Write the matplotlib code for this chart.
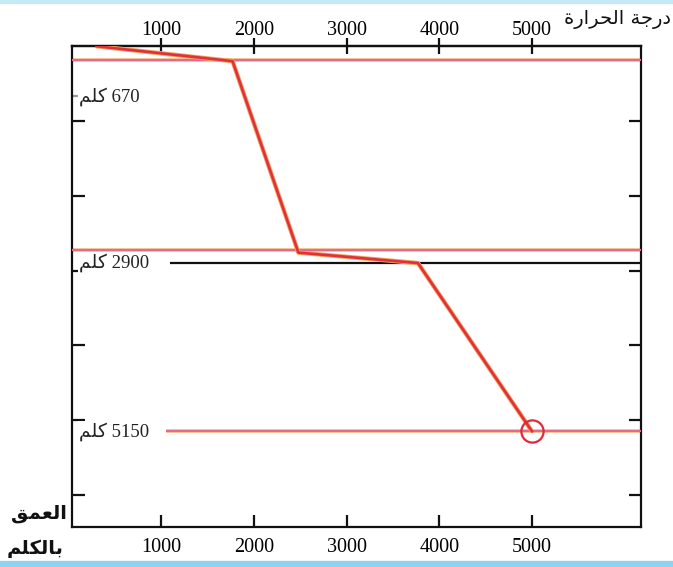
import matplotlib
matplotlib.use("Agg")
import matplotlib.pyplot as plt
from matplotlib.patches import Rectangle

# ── Data ──────────────────────────────────────────────────────────────────────
# temperature profile (temperature vs depth in km)
profile_temp  = [300, 1770, 2480, 3770, 5000]
profile_depth = [0, 200, 2760, 2900, 5150]

# boundary lines (depth, temperature where the line starts)
layer_depth = [190, 2730, 5150]
layer_start = [40, 40, 1050]
core_depth  = 2900
core_start  = 1100

# labelled depths
label_depth = [670, 2900, 5150]
label_text  = ["670", "2900", "5150"]

temp_ticks  = [1000, 2000, 3000, 4000, 5000]
depth_ticks = [1000, 2000, 3000, 4000, 5000, 6000]

# Arabic strings in presentation forms, visual (left-to-right) order
KM       = "\uFEE2\uFEE0\uFEDB"                                   # كلم
TEMP_LBL = ("\uFE93\uFEAD\uFE8D\uFEAE\uFEA4\uFEDF\uFE8D "
            "\uFE94\uFE9F\uFEAD\uFEA9")                            # درجة الحرارة
DEPTH_1  = "\uFED6\uFEE4\uFECC\uFEDF\uFE8D"                        # العمق
DEPTH_2  = "\uFEE2\uFEE0\uFEDC\uFEDF\uFE8E\uFE91"                  # بالكلم

SERIF = ["Liberation Serif", "DejaVu Sans"]
ARAB  = ["DejaVu Sans"]

# ── Figure ────────────────────────────────────────────────────────────────────
fig = plt.figure(figsize=(6.73, 5.67), dpi=100, facecolor="white")
ax = fig.add_axes([0.107, 0.0705, 0.846, 0.848])
ax.set_xlim(38, 6180)
ax.set_ylim(6430, 0)

# scan-like coloured strips at the edges
fig.patches.append(Rectangle((0, 0.994), 1, 0.006, transform=fig.transFigure,
                             color="#c6e9f5", zorder=0))
fig.patches.append(Rectangle((0, 0.0), 1, 0.010, transform=fig.transFigure,
                             color="#8fd3ec", zorder=0))

# boundary lines: orange halo + pink core
for d, s in zip(layer_depth, layer_start):
    ax.hlines(d, s, 6180, color="#f6cf95", lw=2.8, zorder=2)
    ax.hlines(d, s, 6180, color="#e46a8c", lw=1.6, zorder=3)
ax.hlines(core_depth, core_start, 6180, color="#111111", lw=1.6, zorder=3)

# temperature profile
ax.plot(profile_temp, profile_depth, color="#f3a25a", lw=3.2, zorder=4,
        solid_capstyle="butt")
ax.plot(profile_temp, profile_depth, color="#e0303d", lw=1.9, zorder=5)
ax.plot(profile_temp[-1], profile_depth[-1], "o", ms=16, mfc="none",
        mec="#e02a3c", mew=1.6, zorder=6)

# depth labels inside the box
for d, t in zip(label_depth, label_text):
    ax.text(0.012, d, f"{KM} {t}", transform=ax.get_yaxis_transform(),
            ha="left", va="center", fontsize=13.5, family=SERIF,
            color="#222222", zorder=7,
            bbox=dict(fc="white", ec="none", pad=0.5))

# ── Axes styling ──────────────────────────────────────────────────────────────
for sp in ax.spines.values():
    sp.set_linewidth(1.6)
    sp.set_color("#111111")

# bottom temperature axis
ax.set_xticks(temp_ticks)
ax.set_xticklabels([str(t) for t in temp_ticks], family=SERIF, fontsize=14.5)
ax.tick_params(axis="x", which="major", top=False, bottom=True,
               direction="in", length=9, width=1.6, pad=8, color="#111111")

# top temperature axis (ticks cross the spine)
top = ax.secondary_xaxis("top")
top.set_xticks(temp_ticks)
top.set_xticklabels([str(t) for t in temp_ticks], family=SERIF, fontsize=14.5)
top.tick_params(direction="inout", length=12, width=1.6, pad=-1.5,
                color="#111111")
top.spines["top"].set_linewidth(1.6)

# depth axis: unlabelled ticks on both sides
ax.set_yticks(depth_ticks)
ax.set_yticklabels([])
ax.tick_params(axis="y", which="major", left=True, right=True,
               direction="in", length=9, width=1.6, color="#111111")
ax.set_yticks([670], minor=True)
ax.tick_params(axis="y", which="minor", left=True, right=False,
               direction="in", length=7, width=1.6, color="#999999")

# ── Axis titles ───────────────────────────────────────────────────────────────
fig.text(0.997, 0.965, TEMP_LBL, ha="right", va="center", fontsize=14,
         family=ARAB, color="#111111")
fig.text(0.058, 0.095, DEPTH_1, ha="center", va="center", fontsize=14,
         family=ARAB, fontweight="bold", color="#111111")
fig.text(0.052, 0.033, DEPTH_2, ha="center", va="center", fontsize=14,
         family=ARAB, fontweight="bold", color="#111111")

fig.savefig("out.png", dpi=100, facecolor="white")
